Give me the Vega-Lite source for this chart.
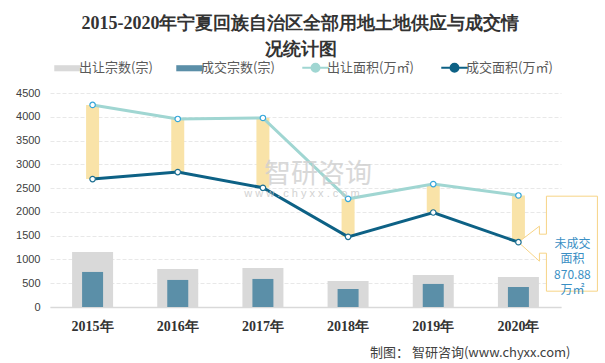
{
  "$schema": "https://vega.github.io/schema/vega-lite/v6.json",
  "width": 511,
  "height": 214,
  "autosize": "none",
  "padding": {"left": 50, "top": 93, "right": 44, "bottom": 56},
  "background": "white",
  "title": {
    "text": ["2015-2020年宁夏回族自治区全部用地土地供应与成交情", "况统计图"],
    "font": "Liberation Serif",
    "fontSize": 18,
    "fontWeight": "bold",
    "color": "#333333",
    "lineHeight": 26,
    "anchor": "middle",
    "dx": -5,
    "offset": 2
  },
  "data": {
    "values": [
      {"year": "2015年", "supplyCount": 1159, "dealCount": 737, "supplyArea": 4249, "dealArea": 2690},
      {"year": "2016年", "supplyCount": 800, "dealCount": 569, "supplyArea": 3954, "dealArea": 2838},
      {"year": "2017年", "supplyCount": 822, "dealCount": 590, "supplyArea": 3975, "dealArea": 2507},
      {"year": "2018年", "supplyCount": 548, "dealCount": 379, "supplyArea": 2275, "dealArea": 1475},
      {"year": "2019年", "supplyCount": 674, "dealCount": 485, "supplyArea": 2585, "dealArea": 1987},
      {"year": "2020年", "supplyCount": 632, "dealCount": 421, "supplyArea": 2345, "dealArea": 1363}
    ]
  },
  "encoding": {
    "x": {
      "field": "year",
      "type": "nominal",
      "sort": null,
      "axis": {
        "title": "制图： 智研咨询(www.chyxx.com)",
        "titleFont": "Noto Sans CJK SC",
        "titleFontSize": 13,
        "titleFontWeight": "normal",
        "titleColor": "#404040",
        "titleX": 520,
        "titleY": 45,
        "titleAlign": "right",
        "titleAnchor": null,
        "titleBaseline": "middle",
        "labelAngle": 0,
        "labelFont": "Liberation Serif",
        "labelFontSize": 14,
        "labelFontWeight": "bold",
        "labelColor": "#333333",
        "labelPadding": 12,
        "ticks": false,
        "domainColor": "#d9d9d9",
        "domainWidth": 1.5,
        "grid": false
      }
    }
  },
  "layer": [
    {
      "mark": {"type": "bar", "size": 41},
      "encoding": {
        "y": {
          "field": "supplyCount",
          "type": "quantitative",
          "title": null,
          "scale": {"domain": [0, 4500], "nice": false},
          "axis": {"values": [0, 500, 1000, 1500, 2000, 2500, 3000, 3500, 4000, 4500], "labelOverlap": false, "labelSeparation": 0, "labelBound": false}
        },
        "color": {
          "datum": "出让宗数(宗)",
          "type": "nominal",
          "scale": {
            "domain": ["出让宗数(宗)", "成交宗数(宗)", "出让面积(万㎡)", "成交面积(万㎡)"],
            "range": ["#d9d9d9", "#5b8fa8", "#a0d6d2", "#0d6185"]
          },
          "legend": {
            "orient": "none",
            "legendX": 11,
            "legendY": -32,
            "direction": "horizontal",
            "title": null,
            "symbolSize": 700,
            "labelFontSize": 13,
            "labelColor": "#595959",
            "labelFont": "Noto Sans CJK SC",
            "columnPadding": 23,
            "labelOffset": 5,
            "encode": {
              "symbols": {
                "update": {
                  "shape": {"signal": "indexof(['出让宗数(宗)','成交宗数(宗)'], datum.value) >= 0 ? 'M-1,-0.23H1V0.23H-1Z' : 'M-1,0H-0.3M0.3,0H1M0.3,0A0.3,0.3,0,1,1,-0.3,0A0.3,0.3,0,1,1,0.3,0'"},
                  "fill": {"signal": "datum.value === '出让宗数(宗)' ? '#d9d9d9' : datum.value === '成交宗数(宗)' ? '#5b8fa8' : '#ffffff'"},
                  "stroke": {"signal": "datum.value === '出让面积(万㎡)' ? '#a0d6d2' : datum.value === '成交面积(万㎡)' ? '#0d6185' : 'transparent'"},
                  "strokeWidth": {"signal": "indexof(['出让宗数(宗)','成交宗数(宗)'], datum.value) >= 0 ? 0 : 2"},
                  "opacity": {"value": 1},
                  "fillOpacity": {"value": 1},
                  "strokeOpacity": {"value": 1}
                }
              }
            }
          }
        }
      }
    },
    {
      "mark": {"type": "bar", "size": 21},
      "encoding": {
        "y": {"field": "dealCount", "type": "quantitative", "title": null, "axis": {"values": [0, 500, 1000, 1500, 2000, 2500, 3000, 3500, 4000, 4500], "labelOverlap": false, "labelSeparation": 0, "labelBound": false}},
        "color": {"datum": "成交宗数(宗)", "type": "nominal"}
      }
    },
    {
      "mark": {"type": "bar", "size": 13, "color": "#f9e3a8"},
      "encoding": {
        "y": {"field": "dealArea", "type": "quantitative", "title": null, "axis": {"values": [0, 500, 1000, 1500, 2000, 2500, 3000, 3500, 4000, 4500], "labelOverlap": false, "labelSeparation": 0, "labelBound": false}},
        "y2": {"field": "supplyArea"}
      }
    },
    {
      "transform": [{"filter": "datum.year === '2020年'"}],
      "mark": {
        "type": "point",
        "shape": "M0,0L21,-16L21,-8L28,-8L28,-46L79,-46L79,49L28,49L28,11L21,11L21,19Z",
        "size": 4,
        "filled": true,
        "fill": "white",
        "stroke": "#f7d486",
        "strokeWidth": 1,
        "opacity": 1
      },
      "encoding": {
        "y": {"field": "dealArea", "type": "quantitative", "title": null, "axis": {"values": [0, 500, 1000, 1500, 2000, 2500, 3000, 3500, 4000, 4500], "labelOverlap": false, "labelSeparation": 0, "labelBound": false}}
      }
    },
    {
      "mark": {"type": "line", "strokeWidth": 3},
      "encoding": {
        "y": {"field": "supplyArea", "type": "quantitative", "title": null, "axis": {"values": [0, 500, 1000, 1500, 2000, 2500, 3000, 3500, 4000, 4500], "labelOverlap": false, "labelSeparation": 0, "labelBound": false}},
        "color": {"datum": "出让面积(万㎡)", "type": "nominal"}
      }
    },
    {
      "mark": {"type": "line", "strokeWidth": 3},
      "encoding": {
        "y": {"field": "dealArea", "type": "quantitative", "title": null, "axis": {"values": [0, 500, 1000, 1500, 2000, 2500, 3000, 3500, 4000, 4500], "labelOverlap": false, "labelSeparation": 0, "labelBound": false}},
        "color": {"datum": "成交面积(万㎡)", "type": "nominal"}
      }
    },
    {
      "mark": {"type": "point", "filled": true, "fill": "white", "stroke": "#35a6d9", "strokeWidth": 1.2, "size": 30, "opacity": 1},
      "encoding": {
        "y": {"field": "supplyArea", "type": "quantitative", "title": null, "axis": {"values": [0, 500, 1000, 1500, 2000, 2500, 3000, 3500, 4000, 4500], "labelOverlap": false, "labelSeparation": 0, "labelBound": false}}
      }
    },
    {
      "mark": {"type": "point", "filled": true, "fill": "white", "stroke": "#1c6f92", "strokeWidth": 1.2, "size": 30, "opacity": 1},
      "encoding": {
        "y": {"field": "dealArea", "type": "quantitative", "title": null, "axis": {"values": [0, 500, 1000, 1500, 2000, 2500, 3000, 3500, 4000, 4500], "labelOverlap": false, "labelSeparation": 0, "labelBound": false}}
      }
    },
    {
      "transform": [{"filter": "datum.year === '2020年'"}],
      "mark": {
        "type": "text",
        "dx": 54,
        "dy": 1.5,
        "lineBreak": "\n",
        "lineHeight": 15.5,
        "baseline": "middle",
        "align": "center",
        "font": "Noto Sans CJK SC",
        "fontSize": 12,
        "color": "#3a8fc4"
      },
      "encoding": {
        "y": {"field": "dealArea", "type": "quantitative", "title": null, "axis": {"values": [0, 500, 1000, 1500, 2000, 2500, 3000, 3500, 4000, 4500], "labelOverlap": false, "labelSeparation": 0, "labelBound": false}},
        "text": {"value": "未成交\n面积\n870.88\n万㎡"}
      }
    },
    {
      "data": {"values": [{"t": "智研咨询"}]},
      "mark": {"type": "text", "dx": 55, "font": "Noto Sans CJK SC", "fontSize": 27, "color": "#cfcfcf", "opacity": 0.8, "baseline": "middle"},
      "encoding": {
        "x": {"datum": "2017年"},
        "y": {"datum": 2780, "type": "quantitative", "axis": {"values": [0, 500, 1000, 1500, 2000, 2500, 3000, 3500, 4000, 4500], "labelOverlap": false, "labelSeparation": 0, "labelBound": false}},
        "text": {"field": "t"}
      }
    },
    {
      "data": {"values": [{"t": "w w w . c h y x x . c o m"}]},
      "mark": {"type": "text", "dx": 39, "font": "Liberation Sans", "fontSize": 11, "color": "#c8c8c8", "opacity": 0.8, "baseline": "middle"},
      "encoding": {
        "x": {"datum": "2017年"},
        "y": {"datum": 2380, "type": "quantitative", "axis": {"values": [0, 500, 1000, 1500, 2000, 2500, 3000, 3500, 4000, 4500], "labelOverlap": false, "labelSeparation": 0, "labelBound": false}},
        "text": {"field": "t"}
      }
    }
  ],
  "config": {
    "view": {"stroke": null},
    "axisY": {
      "title": null,
      "format": "d",
      "labelOverlap": false,
      "domain": false,
      "ticks": false,
      "labelFont": "Liberation Sans",
      "labelFontSize": 11,
      "labelColor": "#404040",
      "labelPadding": 10,
      "gridColor": "#e8e8e8",
      "gridDash": [4, 2],
      "gridWidth": 1
    }
  }
}
